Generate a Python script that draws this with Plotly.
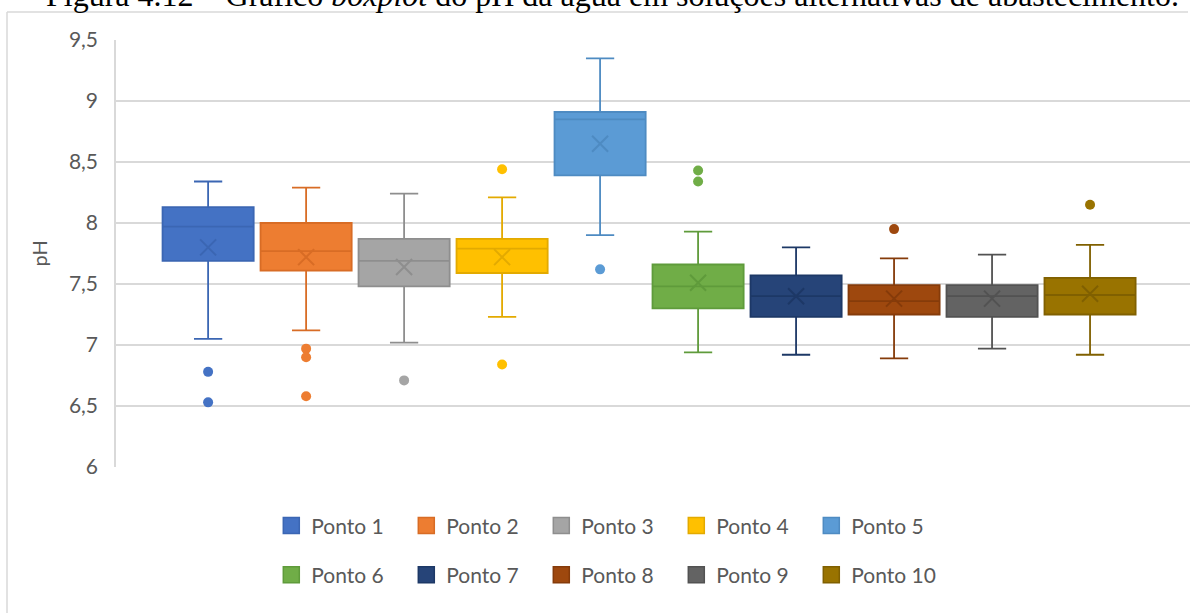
import plotly.graph_objects as go

# pH box plot per sampling point
pontos = ["Ponto 1", "Ponto 2", "Ponto 3", "Ponto 4", "Ponto 5",
          "Ponto 6", "Ponto 7", "Ponto 8", "Ponto 9", "Ponto 10"]

lower_whisker = [7.05, 7.12, 7.02, 7.23, 7.90, 6.94, 6.92, 6.89, 6.97, 6.92]
q1            = [7.69, 7.61, 7.48, 7.59, 8.39, 7.30, 7.23, 7.25, 7.23, 7.25]
median        = [7.97, 7.77, 7.69, 7.79, 8.85, 7.48, 7.40, 7.36, 7.40, 7.41]
q3            = [8.13, 8.00, 7.87, 7.87, 8.91, 7.66, 7.57, 7.49, 7.49, 7.55]
upper_whisker = [8.34, 8.29, 8.24, 8.21, 9.35, 7.93, 7.80, 7.71, 7.74, 7.82]
mean          = [7.80, 7.72, 7.64, 7.72, 8.65, 7.51, 7.40, 7.38, 7.38, 7.42]
outliers = [
    [6.78, 6.53],
    [6.97, 6.90, 6.58],
    [6.71],
    [8.44, 6.84],
    [7.62],
    [8.43, 8.34],
    [],
    [7.95],
    [],
    [8.15],
]

fill_colors = ["#4472C4", "#ED7D31", "#A5A5A5", "#FFC000", "#5B9BD5",
               "#70AD47", "#264478", "#9E480E", "#636363", "#997300"]
edge_colors = ["#3B66B3", "#D86C25", "#8E8E8E", "#E3AA00", "#4E8BC2",
               "#5F9B3B", "#1D3866", "#853B0A", "#525252", "#806000"]

FONT = "Lato"
TEXT_GREY = "#595959"
GRID = "#D9D9D9"

fig = go.Figure()

for i, name in enumerate(pontos):
    fig.add_trace(go.Box(
        x=[name],
        q1=[q1[i]], median=[median[i]], q3=[q3[i]],
        lowerfence=[lower_whisker[i]], upperfence=[upper_whisker[i]],
        name=name, showlegend=False,
        width=0.93, whiskerwidth=0.31,
        fillcolor=fill_colors[i],
        line=dict(color=edge_colors[i], width=1.8),
        boxpoints=False, hoverinfo="skip",
    ))
    # mean marker
    fig.add_trace(go.Scatter(
        x=[name], y=[mean[i]], mode="markers", showlegend=False,
        marker=dict(symbol="x-thin", size=16,
                    line=dict(color=edge_colors[i], width=2)),
        hoverinfo="skip",
    ))
    # outlier points
    if outliers[i]:
        fig.add_trace(go.Scatter(
            x=[name] * len(outliers[i]), y=outliers[i], mode="markers",
            showlegend=False,
            marker=dict(symbol="circle", size=10, color=fill_colors[i],
                        line=dict(width=0)),
            hoverinfo="skip",
        ))

# legend swatches, split over two rows
for i, name in enumerate(pontos):
    fig.add_trace(go.Scatter(
        x=[None], y=[None], mode="markers", name=name,
        marker=dict(symbol="square", size=16, color=fill_colors[i],
                    line=dict(color=edge_colors[i], width=1.5)),
        legend="legend" if i < 5 else "legend2",
    ))

legend_common = dict(
    orientation="h", xanchor="left", yanchor="middle",
    font=dict(family=FONT, size=21, color=TEXT_GREY),
    entrywidth=90, entrywidthmode="pixels",
    itemclick=False, itemdoubleclick=False,
    bgcolor="rgba(0,0,0,0)",
)

fig.update_layout(
    width=1194, height=613,
    margin=dict(l=116, r=4, t=40, b=146),
    paper_bgcolor="white", plot_bgcolor="white",
    separators=",.",
    font=dict(family=FONT, color=TEXT_GREY),
    showlegend=True,
    legend=dict(x=0.1446, y=-0.138, **legend_common),
    legend2=dict(x=0.1446, y=-0.253, **legend_common),
    xaxis=dict(
        type="category", categoryorder="array", categoryarray=pontos,
        range=[-0.94, 10.02], showticklabels=False, showgrid=False,
        zeroline=False, showline=False, ticks="",
    ),
    yaxis=dict(
        range=[6, 9.5], dtick=0.5, tick0=6,
        showgrid=True, gridcolor=GRID, gridwidth=1.5,
        zeroline=False, showline=True, linecolor=GRID, linewidth=1.5,
        ticks="outside", ticklen=12, tickcolor="rgba(0,0,0,0)",
        tickfont=dict(family=FONT, size=21, color=TEXT_GREY),
    ),
    shapes=[
        # chart frame (top and left edges)
        dict(type="line", xref="paper", yref="paper",
             x0=(7 - 116) / 1074, x1=(1188 - 116) / 1074,
             y0=(467 - 12) / 427, y1=(467 - 12) / 427,
             line=dict(color=GRID, width=1.5)),
        dict(type="line", xref="paper", yref="paper",
             x0=(7 - 116) / 1074, x1=(7 - 116) / 1074,
             y0=(467 - 12) / 427, y1=(467 - 640) / 427,
             line=dict(color=GRID, width=1.5)),
    ],
    annotations=[
        dict(text="pH", xref="paper", yref="paper",
             x=(38 - 116) / 1074, y=0.5, xanchor="center", yanchor="middle",
             textangle=-90, showarrow=False,
             font=dict(family=FONT, size=20, color=TEXT_GREY)),
        dict(text="Figura 4.12 – Gráfico <i>boxplot</i> do pH da água em soluções alternativas de abastecimento.",
             xref="paper", yref="paper",
             x=(612 - 116) / 1074, y=(467 - 15) / 427,
             xanchor="center", yanchor="bottom", showarrow=False,
             font=dict(family="Liberation Serif", size=32, color="black")),
    ],
)

fig.write_html("out.html")
